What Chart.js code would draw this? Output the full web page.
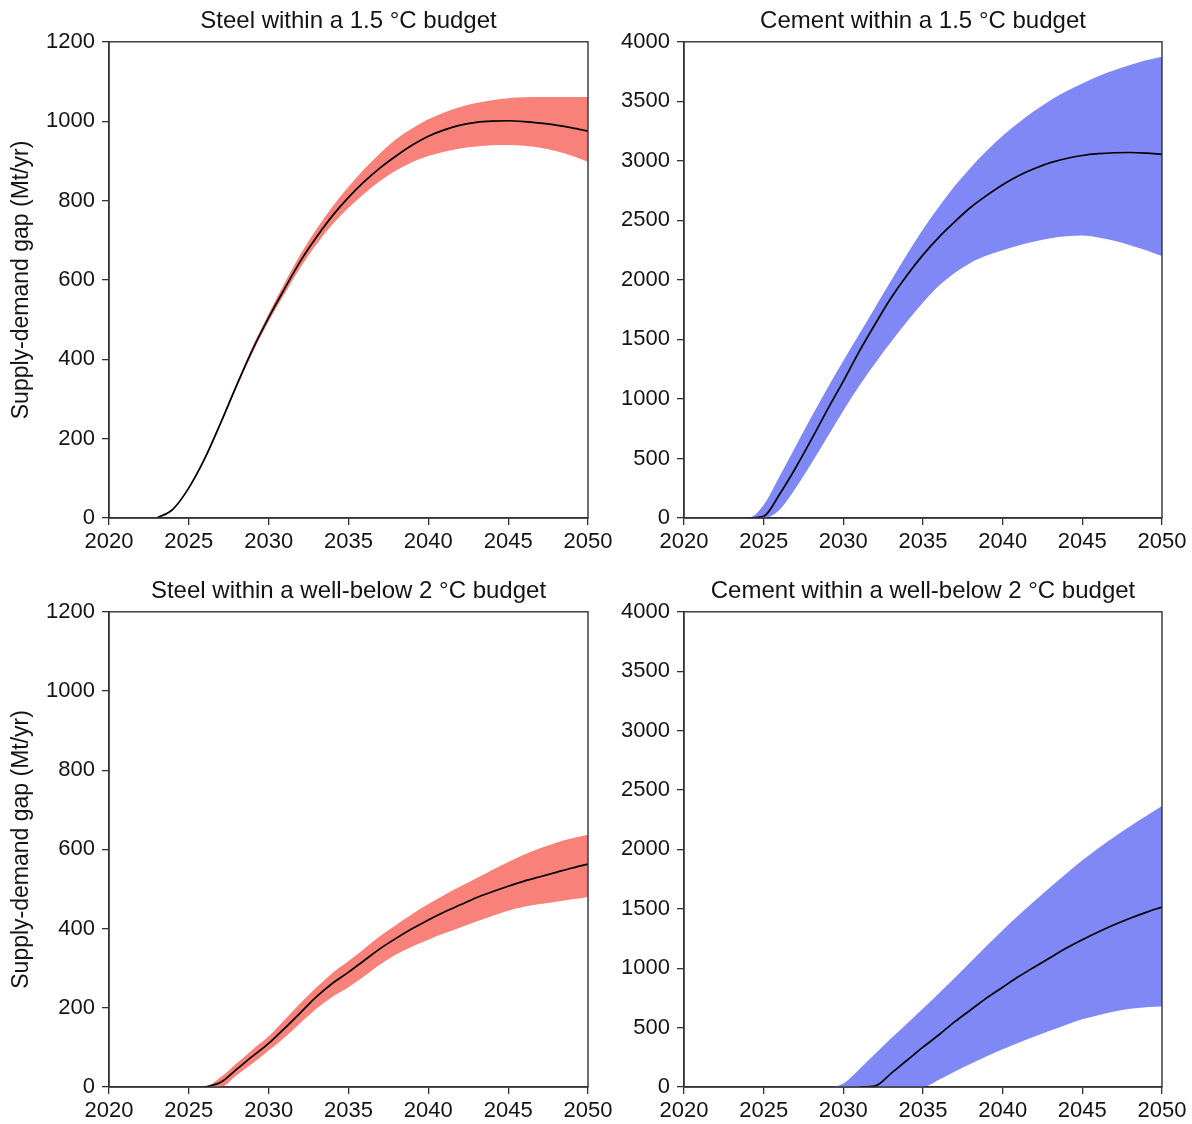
<!DOCTYPE html>
<html>
<head>
<meta charset="utf-8">
<script src="https://cdn.jsdelivr.net/npm/chart.js@4.4.1/dist/chart.umd.min.js"></script>
<style>
html,body{margin:0;padding:0;background:#fff;}
body{width:1192px;height:1124px;position:relative;overflow:hidden;}
canvas{position:absolute;display:block;}
</style>
</head>
<body>
<canvas id="c1" width="620" height="562" style="left:0px;top:0px;width:620px;height:562px"></canvas>
<canvas id="c2" width="592" height="562" style="left:600px;top:0px;width:592px;height:562px"></canvas>
<canvas id="c3" width="620" height="554" style="left:0px;top:570px;width:620px;height:554px"></canvas>
<canvas id="c4" width="592" height="554" style="left:600px;top:570px;width:592px;height:554px"></canvas>
<script>
// ---------------- data ----------------
const years = [2020,2021,2022,2023,2024,2025,2026,2027,2028,2029,2030,2031,2032,2033,2034,2035,2036,2037,2038,2039,2040,2041,2042,2043,2044,2045,2046,2047,2048,2049,2050];
const xTicks = [2020,2025,2030,2035,2040,2045,2050];
const steelTicks = [0,200,400,600,800,1000,1200];
const cementTicks = [0,500,1000,1500,2000,2500,3000,3500,4000];
const titles = ["Steel within a 1.5 \u00B0C budget","Cement within a 1.5 \u00B0C budget","Steel within a well-below 2 \u00B0C budget","Cement within a well-below 2 \u00B0C budget"];
const yAxisTitle = "Supply-demand gap (Mt/yr)";

// Steel, 1.5 °C
const steel15Median = [null,null,null,0,22,76,150,240,335,425,505,578,648,708,762,808,848,883,913,940,962,978,990,997,1000,1001,999,995,990,983,975];
const steel15Lower  = [0,0,0,0,21,73,146,235,329,417,495,565,632,690,740,782,818,850,876,897,912,923,931,936,939,940,938,933,925,913,898];
const steel15Upper  = [0,0,0,0,23,79,154,245,341,433,515,592,665,728,785,835,880,920,955,982,1005,1022,1036,1046,1053,1058,1060,1061,1061,1061,1061];

// Cement, 1.5 °C
const cement15Median = [null,null,null,null,0,15,200,420,660,910,1150,1400,1630,1850,2040,2210,2360,2490,2610,2710,2800,2875,2935,2985,3020,3045,3060,3068,3070,3065,3055];
const cement15Lower  = [0,0,0,0,0,0,70,250,460,680,900,1110,1300,1480,1650,1810,1950,2060,2145,2205,2250,2290,2323,2350,2367,2372,2356,2328,2292,2250,2200];
const cement15Upper  = [0,0,0,0,0,110,350,600,850,1090,1320,1545,1770,1995,2215,2425,2615,2790,2945,3085,3210,3320,3420,3510,3585,3650,3710,3760,3805,3845,3875];

// Steel, well-below 2 °C
const steelWB2Median = [null,null,null,null,null,null,0,12,45,78,110,148,188,228,262,290,320,350,376,400,422,442,460,478,493,507,520,531,542,553,563];
const steelWB2Lower  = [0,0,0,0,0,0,0,0,30,60,92,125,162,198,228,252,280,310,335,355,372,388,403,418,432,445,455,462,468,474,480];
const steelWB2Upper  = [0,0,0,0,0,0,0,25,60,95,128,170,212,252,288,318,350,382,410,437,462,485,506,527,548,568,587,603,617,628,637];

// Cement, well-below 2 °C
const cementWB2Median = [null,null,null,null,null,null,null,null,null,null,null,0,10,115,225,335,440,550,650,750,840,930,1010,1090,1170,1240,1305,1365,1420,1470,1515];
const cementWB2Lower  = [0,0,0,0,0,0,0,0,0,0,0,0,0,0,0,0,60,130,195,258,318,372,425,475,525,570,605,635,658,672,678];
const cementWB2Upper  = [0,0,0,0,0,0,0,0,0,0,30,150,280,410,535,660,790,920,1055,1190,1320,1445,1565,1683,1798,1908,2010,2105,2195,2282,2365];

// ---------------- styling ----------------
const FONT = "'Liberation Sans', Arial, Helvetica, sans-serif";
const TEXT = '#141414';
const AXIS = '#333333';
const RED = 'rgb(248,130,122)';
const BLUE = 'rgb(128,136,245)';

const framePlugin = {
  id: 'frame',
  afterDatasetsDraw(chart) {
    const a = chart.chartArea, ctx = chart.ctx;
    ctx.save();
    ctx.strokeStyle = AXIS;
    ctx.lineWidth = 1.4;
    ctx.strokeRect(a.left, a.top, a.right - a.left, a.bottom - a.top);
    ctx.restore();
  }
};

function pts(vals) { return years.map((y, i) => ({x: y, y: vals[i]})); }

function makeChart(id, title, lower, upper, median, color, yTicks, yWidth, padRight, xHeight, showYTitle) {
  const yMax = yTicks[yTicks.length - 1];
  return new Chart(document.getElementById(id), {
    type: 'line',
    data: {
      datasets: [
        // median first so that it is painted on top of the band
        {data: pts(median), borderWidth: 1.7, borderColor: '#000', pointRadius: 0, fill: false, cubicInterpolationMode: 'monotone'},
        {data: pts(lower), borderWidth: 0, pointRadius: 0, fill: false, cubicInterpolationMode: 'monotone', borderColor: 'rgba(0,0,0,0)'},
        {data: pts(upper), borderWidth: 0, pointRadius: 0, fill: '-1', backgroundColor: color, cubicInterpolationMode: 'monotone', borderColor: 'rgba(0,0,0,0)'}
      ]
    },
    options: {
      responsive: false,
      animation: false,
      events: [],
      layout: {padding: {left: 0, right: padRight, top: 0, bottom: 0}},
      plugins: {
        legend: {display: false},
        tooltip: {enabled: false},
        title: {
          display: true, text: title, fullSize: false, color: TEXT,
          font: {family: FONT, size: 24, weight: 'normal'},
          padding: {top: 7, bottom: 6}
        }
      },
      scales: {
        x: {
          type: 'linear', min: 2020, max: 2050,
          afterBuildTicks: s => { s.ticks = xTicks.map(v => ({value: v})); },
          afterFit: s => { s.height = xHeight; },
          ticks: {color: TEXT, font: {family: FONT, size: 22}, padding: 4, maxRotation: 0, autoSkip: false, callback: v => String(v)},
          grid: {display: true, drawOnChartArea: false, drawTicks: true, tickLength: 7, color: AXIS, lineWidth: 1.3},
          border: {display: true, color: AXIS, width: 1.4}
        },
        y: {
          type: 'linear', min: 0, max: yMax,
          afterBuildTicks: s => { s.ticks = yTicks.map(v => ({value: v})); },
          afterFit: s => { s.width = yWidth; },
          ticks: {color: TEXT, font: {family: FONT, size: 22}, padding: 7, autoSkip: false, callback: v => String(v)},
          grid: {display: true, drawOnChartArea: false, drawTicks: true, tickLength: 7, color: AXIS, lineWidth: 1.3},
          border: {display: true, color: AXIS, width: 1.4},
          title: {display: showYTitle, text: yAxisTitle, color: TEXT, font: {family: FONT, size: 23}, padding: {top: 8, bottom: 0}}
        }
      }
    },
    plugins: [framePlugin]
  });
}

makeChart('c1', titles[0], steel15Lower, steel15Upper, steel15Median, RED, steelTicks, 109, 32, 44, true);
makeChart('c2', titles[1], cement15Lower, cement15Upper, cement15Median, BLUE, cementTicks, 84, 30, 44, false);
makeChart('c3', titles[2], steelWB2Lower, steelWB2Upper, steelWB2Median, RED, steelTicks, 109, 32, 37, true);
makeChart('c4', titles[3], cementWB2Lower, cementWB2Upper, cementWB2Median, BLUE, cementTicks, 84, 30, 37, false);
</script>
</body>
</html>
